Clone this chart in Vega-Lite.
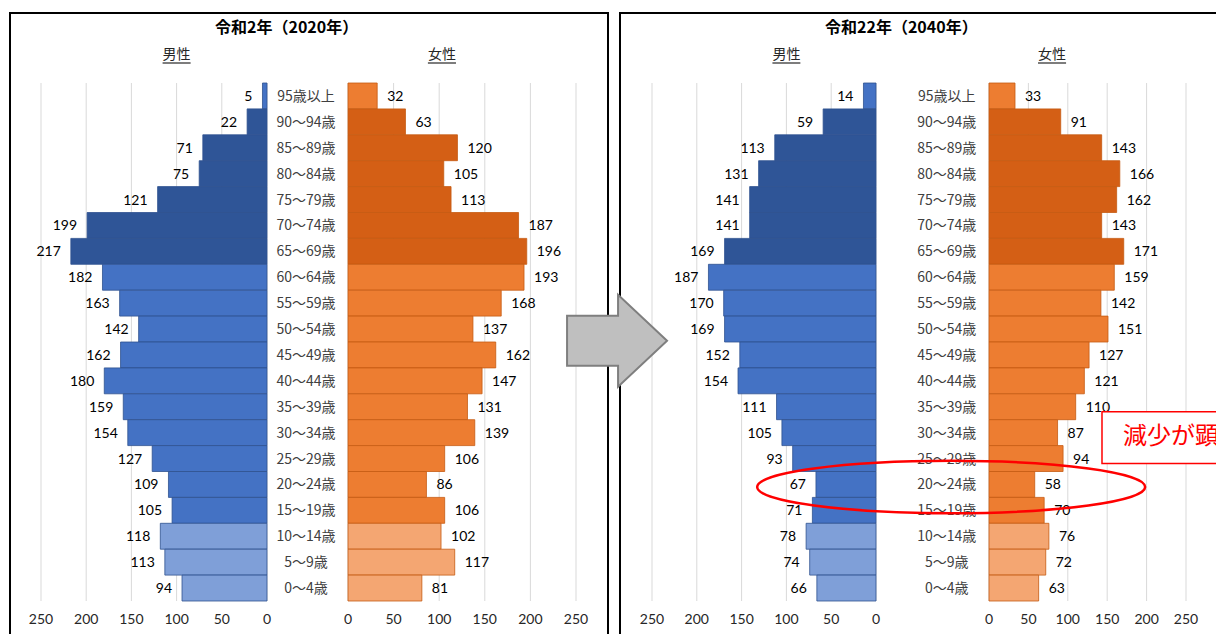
{
  "$schema": "https://vega.github.io/schema/vega-lite/v6.json",
  "padding": {"left": 9, "top": 12, "right": 0, "bottom": 0},
  "spacing": 12,
  "bounds": "flush",
  "config": {
    "view": {"stroke": "#000000", "strokeWidth": 2},
    "font": "Noto Sans CJK JP"
  },
  "datasets": {
    "ticks": [{"t": 0}, {"t": 50}, {"t": 100}, {"t": 150}, {"t": 200}, {"t": 250}],
    "pop": [
      {"year": 2020, "age": "95歳以上", "cls": "超高齢", "sex": "男性", "value": 5},
      {"year": 2020, "age": "90～94歳", "cls": "老年", "sex": "男性", "value": 22},
      {"year": 2020, "age": "85～89歳", "cls": "老年", "sex": "男性", "value": 71},
      {"year": 2020, "age": "80～84歳", "cls": "老年", "sex": "男性", "value": 75},
      {"year": 2020, "age": "75～79歳", "cls": "老年", "sex": "男性", "value": 121},
      {"year": 2020, "age": "70～74歳", "cls": "老年", "sex": "男性", "value": 199},
      {"year": 2020, "age": "65～69歳", "cls": "老年", "sex": "男性", "value": 217},
      {"year": 2020, "age": "60～64歳", "cls": "生産年齢", "sex": "男性", "value": 182},
      {"year": 2020, "age": "55～59歳", "cls": "生産年齢", "sex": "男性", "value": 163},
      {"year": 2020, "age": "50～54歳", "cls": "生産年齢", "sex": "男性", "value": 142},
      {"year": 2020, "age": "45～49歳", "cls": "生産年齢", "sex": "男性", "value": 162},
      {"year": 2020, "age": "40～44歳", "cls": "生産年齢", "sex": "男性", "value": 180},
      {"year": 2020, "age": "35～39歳", "cls": "生産年齢", "sex": "男性", "value": 159},
      {"year": 2020, "age": "30～34歳", "cls": "生産年齢", "sex": "男性", "value": 154},
      {"year": 2020, "age": "25～29歳", "cls": "生産年齢", "sex": "男性", "value": 127},
      {"year": 2020, "age": "20～24歳", "cls": "生産年齢", "sex": "男性", "value": 109},
      {"year": 2020, "age": "15～19歳", "cls": "生産年齢", "sex": "男性", "value": 105},
      {"year": 2020, "age": "10～14歳", "cls": "年少", "sex": "男性", "value": 118},
      {"year": 2020, "age": "5～9歳", "cls": "年少", "sex": "男性", "value": 113},
      {"year": 2020, "age": "0～4歳", "cls": "年少", "sex": "男性", "value": 94},
      {"year": 2020, "age": "95歳以上", "cls": "超高齢", "sex": "女性", "value": 32},
      {"year": 2020, "age": "90～94歳", "cls": "老年", "sex": "女性", "value": 63},
      {"year": 2020, "age": "85～89歳", "cls": "老年", "sex": "女性", "value": 120},
      {"year": 2020, "age": "80～84歳", "cls": "老年", "sex": "女性", "value": 105},
      {"year": 2020, "age": "75～79歳", "cls": "老年", "sex": "女性", "value": 113},
      {"year": 2020, "age": "70～74歳", "cls": "老年", "sex": "女性", "value": 187},
      {"year": 2020, "age": "65～69歳", "cls": "老年", "sex": "女性", "value": 196},
      {"year": 2020, "age": "60～64歳", "cls": "生産年齢", "sex": "女性", "value": 193},
      {"year": 2020, "age": "55～59歳", "cls": "生産年齢", "sex": "女性", "value": 168},
      {"year": 2020, "age": "50～54歳", "cls": "生産年齢", "sex": "女性", "value": 137},
      {"year": 2020, "age": "45～49歳", "cls": "生産年齢", "sex": "女性", "value": 162},
      {"year": 2020, "age": "40～44歳", "cls": "生産年齢", "sex": "女性", "value": 147},
      {"year": 2020, "age": "35～39歳", "cls": "生産年齢", "sex": "女性", "value": 131},
      {"year": 2020, "age": "30～34歳", "cls": "生産年齢", "sex": "女性", "value": 139},
      {"year": 2020, "age": "25～29歳", "cls": "生産年齢", "sex": "女性", "value": 106},
      {"year": 2020, "age": "20～24歳", "cls": "生産年齢", "sex": "女性", "value": 86},
      {"year": 2020, "age": "15～19歳", "cls": "生産年齢", "sex": "女性", "value": 106},
      {"year": 2020, "age": "10～14歳", "cls": "年少", "sex": "女性", "value": 102},
      {"year": 2020, "age": "5～9歳", "cls": "年少", "sex": "女性", "value": 117},
      {"year": 2020, "age": "0～4歳", "cls": "年少", "sex": "女性", "value": 81},
      {"year": 2040, "age": "95歳以上", "cls": "超高齢", "sex": "男性", "value": 14},
      {"year": 2040, "age": "90～94歳", "cls": "老年", "sex": "男性", "value": 59},
      {"year": 2040, "age": "85～89歳", "cls": "老年", "sex": "男性", "value": 113},
      {"year": 2040, "age": "80～84歳", "cls": "老年", "sex": "男性", "value": 131},
      {"year": 2040, "age": "75～79歳", "cls": "老年", "sex": "男性", "value": 141},
      {"year": 2040, "age": "70～74歳", "cls": "老年", "sex": "男性", "value": 141},
      {"year": 2040, "age": "65～69歳", "cls": "老年", "sex": "男性", "value": 169},
      {"year": 2040, "age": "60～64歳", "cls": "生産年齢", "sex": "男性", "value": 187},
      {"year": 2040, "age": "55～59歳", "cls": "生産年齢", "sex": "男性", "value": 170},
      {"year": 2040, "age": "50～54歳", "cls": "生産年齢", "sex": "男性", "value": 169},
      {"year": 2040, "age": "45～49歳", "cls": "生産年齢", "sex": "男性", "value": 152},
      {"year": 2040, "age": "40～44歳", "cls": "生産年齢", "sex": "男性", "value": 154},
      {"year": 2040, "age": "35～39歳", "cls": "生産年齢", "sex": "男性", "value": 111},
      {"year": 2040, "age": "30～34歳", "cls": "生産年齢", "sex": "男性", "value": 105},
      {"year": 2040, "age": "25～29歳", "cls": "生産年齢", "sex": "男性", "value": 93},
      {"year": 2040, "age": "20～24歳", "cls": "生産年齢", "sex": "男性", "value": 67},
      {"year": 2040, "age": "15～19歳", "cls": "生産年齢", "sex": "男性", "value": 71},
      {"year": 2040, "age": "10～14歳", "cls": "年少", "sex": "男性", "value": 78},
      {"year": 2040, "age": "5～9歳", "cls": "年少", "sex": "男性", "value": 74},
      {"year": 2040, "age": "0～4歳", "cls": "年少", "sex": "男性", "value": 66},
      {"year": 2040, "age": "95歳以上", "cls": "超高齢", "sex": "女性", "value": 33},
      {"year": 2040, "age": "90～94歳", "cls": "老年", "sex": "女性", "value": 91},
      {"year": 2040, "age": "85～89歳", "cls": "老年", "sex": "女性", "value": 143},
      {"year": 2040, "age": "80～84歳", "cls": "老年", "sex": "女性", "value": 166},
      {"year": 2040, "age": "75～79歳", "cls": "老年", "sex": "女性", "value": 162},
      {"year": 2040, "age": "70～74歳", "cls": "老年", "sex": "女性", "value": 143},
      {"year": 2040, "age": "65～69歳", "cls": "老年", "sex": "女性", "value": 171},
      {"year": 2040, "age": "60～64歳", "cls": "生産年齢", "sex": "女性", "value": 159},
      {"year": 2040, "age": "55～59歳", "cls": "生産年齢", "sex": "女性", "value": 142},
      {"year": 2040, "age": "50～54歳", "cls": "生産年齢", "sex": "女性", "value": 151},
      {"year": 2040, "age": "45～49歳", "cls": "生産年齢", "sex": "女性", "value": 127},
      {"year": 2040, "age": "40～44歳", "cls": "生産年齢", "sex": "女性", "value": 121},
      {"year": 2040, "age": "35～39歳", "cls": "生産年齢", "sex": "女性", "value": 110},
      {"year": 2040, "age": "30～34歳", "cls": "生産年齢", "sex": "女性", "value": 87},
      {"year": 2040, "age": "25～29歳", "cls": "生産年齢", "sex": "女性", "value": 94},
      {"year": 2040, "age": "20～24歳", "cls": "生産年齢", "sex": "女性", "value": 58},
      {"year": 2040, "age": "15～19歳", "cls": "生産年齢", "sex": "女性", "value": 70},
      {"year": 2040, "age": "10～14歳", "cls": "年少", "sex": "女性", "value": 76},
      {"year": 2040, "age": "5～9歳", "cls": "年少", "sex": "女性", "value": 72},
      {"year": 2040, "age": "0～4歳", "cls": "年少", "sex": "女性", "value": 63}
    ]
  },
  "hconcat": [
    {
      "width": 598,
      "height": 640,
      "title": {"text": "令和2年（2020年）", "anchor": "start", "frame": "group", "dx": 205, "offset": 0, "dy": 31, "baseline": "middle", "fontSize": 16, "fontWeight": "bold", "color": "#000000", "font": "Noto Sans CJK JP"},
      "resolve": {"scale": {"x": "independent", "color": "independent"}, "axis": {"x": "independent"}},
      "layer": [
        {
          "layer": [
            {
              "data": {"name": "ticks"},
              "mark": {"type": "rule", "color": "#d9d9d9", "strokeWidth": 1},
              "encoding": {
                "x": {"field": "t", "type": "quantitative", "scale": {"domain": [0, 250], "range": [257, 31], "nice": false}, "axis": null},
                "y": {"datum": "95歳以上", "type": "nominal", "bandPosition": 0, "axis": null},
                "y2": {"datum": "0～4歳", "bandPosition": 1}
              }
            },
            {
              "data": {"name": "ticks"},
              "mark": {"type": "text", "dy": 19, "fontSize": 14, "font": "Lato", "color": "#262626", "baseline": "middle"},
              "encoding": {
                "x": {"field": "t", "type": "quantitative", "axis": null},
                "y": {"datum": "0～4歳", "type": "nominal", "bandPosition": 1, "axis": null},
                "text": {"field": "t", "type": "quantitative"}
              }
            },
            {
              "data": {"name": "pop"},
              "transform": [{"filter": "datum.year === 2020 && datum.sex === '男性'"}],
              "mark": {"type": "bar", "stroke": "#2F528F", "strokeWidth": 0.8},
              "encoding": {
                "x": {"field": "value", "type": "quantitative", "stack": null, "axis": null},
                "y": {"field": "age", "type": "nominal", "axis": null, "scale": {"domain": ["95歳以上","90～94歳","85～89歳","80～84歳","75～79歳","70～74歳","65～69歳","60～64歳","55～59歳","50～54歳","45～49歳","40～44歳","35～39歳","30～34歳","25～29歳","20～24歳","15～19歳","10～14歳","5～9歳","0～4歳"], "range": [70, 588], "paddingInner": 0, "paddingOuter": 0}},
                "color": {"field": "cls", "type": "nominal", "legend": null, "scale": {"domain": ["年少", "生産年齢", "老年", "超高齢"], "range": ["#7F9FD8", "#4472C4", "#2F5597", "#4472C4"]}}
              }
            },
            {
              "data": {"name": "pop"},
              "transform": [{"filter": "datum.year === 2020 && datum.sex === '男性'"}],
              "mark": {"type": "text", "align": "right", "dx": -10, "dy": 1, "fontSize": 14, "font": "Lato", "color": "#000000", "baseline": "middle"},
              "encoding": {
                "x": {"field": "value", "type": "quantitative", "axis": null},
                "y": {"field": "age", "type": "nominal", "axis": null},
                "text": {"field": "value", "type": "quantitative"}
              }
            },
            {
              "data": {"values": [{"label": "男性"}]},
              "mark": {"type": "text", "dy": -28, "fontSize": 14, "color": "#262626", "baseline": "middle"},
              "encoding": {
                "x": {"datum": 100, "type": "quantitative", "axis": null},
                "y": {"datum": "95歳以上", "type": "nominal", "bandPosition": 0, "axis": null},
                "text": {"field": "label", "type": "nominal"}
              }
            },
            {
              "data": {"values": [{"label": "男性"}]},
              "mark": {"type": "rule", "color": "#262626", "strokeWidth": 1.2},
              "encoding": {
                "x": {"datum": 84.5, "type": "quantitative", "axis": null},
                "x2": {"datum": 115.5},
                "y": {"datum": "95歳以上", "type": "nominal", "bandPosition": 0, "axis": null},
                "yOffset": {"value": -20}
              }
            }
          ]
        },
        {
          "layer": [
            {
              "data": {"name": "ticks"},
              "mark": {"type": "rule", "color": "#d9d9d9", "strokeWidth": 1},
              "encoding": {
                "x": {"field": "t", "type": "quantitative", "scale": {"domain": [0, 250], "range": [338, 566], "nice": false}, "axis": null},
                "y": {"datum": "95歳以上", "type": "nominal", "bandPosition": 0, "axis": null},
                "y2": {"datum": "0～4歳", "bandPosition": 1}
              }
            },
            {
              "data": {"name": "ticks"},
              "mark": {"type": "text", "dy": 19, "fontSize": 14, "font": "Lato", "color": "#262626", "baseline": "middle"},
              "encoding": {
                "x": {"field": "t", "type": "quantitative", "axis": null},
                "y": {"datum": "0～4歳", "type": "nominal", "bandPosition": 1, "axis": null},
                "text": {"field": "t", "type": "quantitative"}
              }
            },
            {
              "data": {"name": "pop"},
              "transform": [{"filter": "datum.year === 2020 && datum.sex === '女性'"}],
              "mark": {"type": "bar", "stroke": "#C55A11", "strokeWidth": 0.8},
              "encoding": {
                "x": {"field": "value", "type": "quantitative", "stack": null, "axis": null},
                "y": {"field": "age", "type": "nominal", "axis": null},
                "color": {"field": "cls", "type": "nominal", "legend": null, "scale": {"domain": ["年少", "生産年齢", "老年", "超高齢"], "range": ["#F4A672", "#ED7D31", "#D45F15", "#ED7D31"]}}
              }
            },
            {
              "data": {"name": "pop"},
              "transform": [{"filter": "datum.year === 2020 && datum.sex === '女性'"}],
              "mark": {"type": "text", "align": "left", "dx": 10, "dy": 1, "fontSize": 14, "font": "Lato", "color": "#000000", "baseline": "middle"},
              "encoding": {
                "x": {"field": "value", "type": "quantitative", "axis": null},
                "y": {"field": "age", "type": "nominal", "axis": null},
                "text": {"field": "value", "type": "quantitative"}
              }
            },
            {
              "data": {"name": "pop"},
              "transform": [{"filter": "datum.year === 2020 && datum.sex === '女性'"}],
              "mark": {"type": "text", "align": "center", "dy": 1, "fontSize": 14, "color": "#404040", "baseline": "middle"},
              "encoding": {
                "x": {"datum": -46, "type": "quantitative", "axis": null},
                "y": {"field": "age", "type": "nominal", "axis": null},
                "text": {"field": "age", "type": "nominal"}
              }
            },
            {
              "data": {"values": [{"label": "女性"}]},
              "mark": {"type": "text", "dy": -28, "fontSize": 14, "color": "#262626", "baseline": "middle"},
              "encoding": {
                "x": {"datum": 103, "type": "quantitative", "axis": null},
                "y": {"datum": "95歳以上", "type": "nominal", "bandPosition": 0, "axis": null},
                "text": {"field": "label", "type": "nominal"}
              }
            },
            {
              "data": {"values": [{"label": "女性"}]},
              "mark": {"type": "rule", "color": "#262626", "strokeWidth": 1.2},
              "encoding": {
                "x": {"datum": 87.6, "type": "quantitative", "axis": null},
                "x2": {"datum": 118.4},
                "y": {"datum": "95歳以上", "type": "nominal", "bandPosition": 0, "axis": null},
                "yOffset": {"value": -20}
              }
            }
          ]
        }
      ]
    },
    {
      "width": 620,
      "height": 640,
      "title": {"text": "令和22年（2040年）", "anchor": "start", "frame": "group", "dx": 205, "offset": 0, "dy": 31, "baseline": "middle", "fontSize": 16, "fontWeight": "bold", "color": "#000000", "font": "Noto Sans CJK JP"},
      "resolve": {"scale": {"x": "independent", "color": "independent"}, "axis": {"x": "independent"}},
      "layer": [
        {
          "layer": [
            {
              "data": {"name": "ticks"},
              "mark": {"type": "rule", "color": "#d9d9d9", "strokeWidth": 1},
              "encoding": {
                "x": {"field": "t", "type": "quantitative", "scale": {"domain": [0, 250], "range": [256, 32], "nice": false}, "axis": null},
                "y": {"datum": "95歳以上", "type": "nominal", "bandPosition": 0, "axis": null},
                "y2": {"datum": "0～4歳", "bandPosition": 1}
              }
            },
            {
              "data": {"name": "ticks"},
              "mark": {"type": "text", "dy": 19, "fontSize": 14, "font": "Lato", "color": "#262626", "baseline": "middle"},
              "encoding": {
                "x": {"field": "t", "type": "quantitative", "axis": null},
                "y": {"datum": "0～4歳", "type": "nominal", "bandPosition": 1, "axis": null},
                "text": {"field": "t", "type": "quantitative"}
              }
            },
            {
              "data": {"name": "pop"},
              "transform": [{"filter": "datum.year === 2040 && datum.sex === '男性'"}],
              "mark": {"type": "bar", "stroke": "#2F528F", "strokeWidth": 0.8},
              "encoding": {
                "x": {"field": "value", "type": "quantitative", "stack": null, "axis": null},
                "y": {"field": "age", "type": "nominal", "axis": null, "scale": {"domain": ["95歳以上","90～94歳","85～89歳","80～84歳","75～79歳","70～74歳","65～69歳","60～64歳","55～59歳","50～54歳","45～49歳","40～44歳","35～39歳","30～34歳","25～29歳","20～24歳","15～19歳","10～14歳","5～9歳","0～4歳"], "range": [70, 588], "paddingInner": 0, "paddingOuter": 0}},
                "color": {"field": "cls", "type": "nominal", "legend": null, "scale": {"domain": ["年少", "生産年齢", "老年", "超高齢"], "range": ["#7F9FD8", "#4472C4", "#2F5597", "#4472C4"]}}
              }
            },
            {
              "data": {"name": "pop"},
              "transform": [{"filter": "datum.year === 2040 && datum.sex === '男性'"}],
              "mark": {"type": "text", "align": "right", "dx": -10, "dy": 1, "fontSize": 14, "font": "Lato", "color": "#000000", "baseline": "middle"},
              "encoding": {
                "x": {"field": "value", "type": "quantitative", "axis": null},
                "y": {"field": "age", "type": "nominal", "axis": null},
                "text": {"field": "value", "type": "quantitative"}
              }
            },
            {
              "data": {"values": [{"label": "男性"}]},
              "mark": {"type": "text", "dy": -28, "fontSize": 14, "color": "#262626", "baseline": "middle"},
              "encoding": {
                "x": {"datum": 100, "type": "quantitative", "axis": null},
                "y": {"datum": "95歳以上", "type": "nominal", "bandPosition": 0, "axis": null},
                "text": {"field": "label", "type": "nominal"}
              }
            },
            {
              "data": {"values": [{"label": "男性"}]},
              "mark": {"type": "rule", "color": "#262626", "strokeWidth": 1.2},
              "encoding": {
                "x": {"datum": 84.4, "type": "quantitative", "axis": null},
                "x2": {"datum": 115.6},
                "y": {"datum": "95歳以上", "type": "nominal", "bandPosition": 0, "axis": null},
                "yOffset": {"value": -20}
              }
            },
            {
              "data": {"values": [{"label": "→"}]},
              "mark": {"type": "point", "shape": "M -1 -0.5 L 0.02 -0.5 L 0.02 -0.92 L 1 0 L 0.02 0.92 L 0.02 0.5 L -1 0.5 Z", "size": 10000, "filled": true, "fill": "#BFBFBF", "stroke": "#7F7F7F", "strokeWidth": 2, "opacity": 1},
              "encoding": {
                "x": {"datum": 289, "type": "quantitative", "axis": null},
                "y": {"datum": "50～54歳", "type": "nominal", "bandPosition": 0.95, "axis": null}
              }
            }
          ]
        },
        {
          "layer": [
            {
              "data": {"name": "ticks"},
              "mark": {"type": "rule", "color": "#d9d9d9", "strokeWidth": 1},
              "encoding": {
                "x": {"field": "t", "type": "quantitative", "scale": {"domain": [0, 250], "range": [369, 566], "nice": false}, "axis": null},
                "y": {"datum": "95歳以上", "type": "nominal", "bandPosition": 0, "axis": null},
                "y2": {"datum": "0～4歳", "bandPosition": 1}
              }
            },
            {
              "data": {"name": "ticks"},
              "mark": {"type": "text", "dy": 19, "fontSize": 14, "font": "Lato", "color": "#262626", "baseline": "middle"},
              "encoding": {
                "x": {"field": "t", "type": "quantitative", "axis": null},
                "y": {"datum": "0～4歳", "type": "nominal", "bandPosition": 1, "axis": null},
                "text": {"field": "t", "type": "quantitative"}
              }
            },
            {
              "data": {"name": "pop"},
              "transform": [{"filter": "datum.year === 2040 && datum.sex === '女性'"}],
              "mark": {"type": "bar", "stroke": "#C55A11", "strokeWidth": 0.8},
              "encoding": {
                "x": {"field": "value", "type": "quantitative", "stack": null, "axis": null},
                "y": {"field": "age", "type": "nominal", "axis": null},
                "color": {"field": "cls", "type": "nominal", "legend": null, "scale": {"domain": ["年少", "生産年齢", "老年", "超高齢"], "range": ["#F4A672", "#ED7D31", "#D45F15", "#ED7D31"]}}
              }
            },
            {
              "data": {"name": "pop"},
              "transform": [{"filter": "datum.year === 2040 && datum.sex === '女性'"}],
              "mark": {"type": "text", "align": "left", "dx": 10, "dy": 1, "fontSize": 14, "font": "Lato", "color": "#000000", "baseline": "middle"},
              "encoding": {
                "x": {"field": "value", "type": "quantitative", "axis": null},
                "y": {"field": "age", "type": "nominal", "axis": null},
                "text": {"field": "value", "type": "quantitative"}
              }
            },
            {
              "data": {"name": "pop"},
              "transform": [{"filter": "datum.year === 2040 && datum.sex === '女性'"}],
              "mark": {"type": "text", "align": "center", "dy": 1, "fontSize": 14, "color": "#404040", "baseline": "middle"},
              "encoding": {
                "x": {"datum": -53.7, "type": "quantitative", "axis": null},
                "y": {"field": "age", "type": "nominal", "axis": null},
                "text": {"field": "age", "type": "nominal"}
              }
            },
            {
              "data": {"values": [{"label": "女性"}]},
              "mark": {"type": "text", "dy": -28, "fontSize": 14, "color": "#262626", "baseline": "middle"},
              "encoding": {
                "x": {"datum": 80, "type": "quantitative", "axis": null},
                "y": {"datum": "95歳以上", "type": "nominal", "bandPosition": 0, "axis": null},
                "text": {"field": "label", "type": "nominal"}
              }
            },
            {
              "data": {"values": [{"label": "女性"}]},
              "mark": {"type": "rule", "color": "#262626", "strokeWidth": 1.2},
              "encoding": {
                "x": {"datum": 62.2, "type": "quantitative", "axis": null},
                "x2": {"datum": 97.8},
                "y": {"datum": "95歳以上", "type": "nominal", "bandPosition": 0, "axis": null},
                "yOffset": {"value": -20}
              }
            },
            {
              "data": {"values": [{"label": "減少が顕著"}]},
              "mark": {"type": "rect", "fill": "#FFFFFF", "stroke": "#FF0000", "strokeWidth": 1.5},
              "encoding": {
                "x": {"datum": 143.4, "type": "quantitative", "axis": null},
                "x2": {"datum": 330},
                "y": {"datum": "35～39歳", "type": "nominal", "bandPosition": 0.69, "axis": null},
                "y2": {"datum": "25～29歳", "bandPosition": 0.69}
              }
            },
            {
              "data": {"values": [{"label": "減少が顕著"}]},
              "mark": {"type": "text", "align": "left", "baseline": "middle", "fontSize": 24, "color": "#FF0000"},
              "encoding": {
                "x": {"datum": 170, "type": "quantitative", "axis": null},
                "y": {"datum": "30～34歳", "type": "nominal", "bandPosition": 0.67, "axis": null},
                "text": {"field": "label", "type": "nominal"}
              }
            },
            {
              "data": {"values": [{"label": "20～24歳"}]},
              "mark": {"type": "point", "shape": "M -1 0 A 1 0.135 0 1 1 1 0 A 1 0.135 0 1 1 -1 0 Z", "size": 150544, "filled": false, "stroke": "#FF0000", "strokeWidth": 2.5, "opacity": 1},
              "encoding": {
                "x": {"datum": -48, "type": "quantitative", "axis": null},
                "y": {"datum": "20～24歳", "type": "nominal", "bandPosition": 0.6, "axis": null}
              }
            }
          ]
        }
      ]
    }
  ]
}
